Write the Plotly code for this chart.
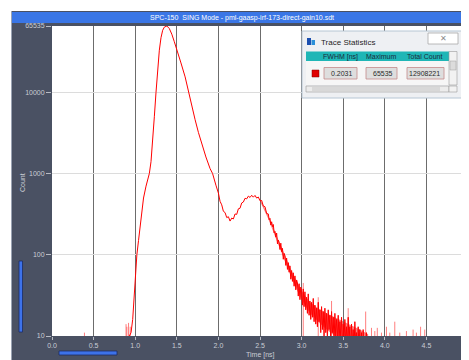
import math
import plotly.graph_objects as go

# ---------------- data ----------------
time_ns = [0.93, 0.95, 0.97, 0.99, 1.00, 1.02, 1.04, 1.06, 1.08, 1.10, 1.13, 1.15, 1.17, 1.19,
           1.21, 1.23, 1.25, 1.27, 1.29, 1.31, 1.33, 1.35, 1.38, 1.41, 1.44, 1.47, 1.50, 1.55,
           1.60, 1.64, 1.68, 1.72, 1.76, 1.80, 1.85, 1.90, 1.93, 1.97,
           2.00, 2.02, 2.04, 2.06, 2.08, 2.10, 2.12, 2.14, 2.16, 2.18, 2.20, 2.22, 2.24, 2.26,
           2.28, 2.30, 2.32, 2.34, 2.36, 2.38, 2.40, 2.42, 2.44, 2.46, 2.48, 2.50, 2.52, 2.54,
           2.56, 2.58,
           2.60, 2.61, 2.62, 2.63, 2.64, 2.65, 2.66, 2.67, 2.68, 2.69,
           2.70, 2.71, 2.72, 2.73, 2.74, 2.75, 2.76, 2.77, 2.78, 2.79,
           2.80, 2.81, 2.82, 2.83, 2.84, 2.85, 2.86, 2.87, 2.88, 2.89,
           2.90, 2.91, 2.92, 2.93, 2.94, 2.95, 2.96, 2.97, 2.98, 2.99,
           3.00, 3.01, 3.02, 3.03, 3.04, 3.05, 3.06, 3.07, 3.08, 3.09,
           3.10, 3.11, 3.12, 3.13, 3.14, 3.15, 3.16, 3.17, 3.18, 3.19,
           3.20, 3.21, 3.22, 3.23, 3.24, 3.25, 3.26, 3.27, 3.28, 3.29,
           3.30, 3.31, 3.32, 3.33, 3.34, 3.35, 3.36, 3.37, 3.38, 3.39,
           3.40, 3.41, 3.42, 3.43, 3.44, 3.45, 3.46, 3.47, 3.48, 3.49,
           3.50, 3.51, 3.52, 3.53, 3.54, 3.55, 3.56, 3.57, 3.58, 3.59,
           3.60, 3.61, 3.62, 3.63, 3.64, 3.65, 3.66, 3.67, 3.68, 3.69,
           3.70, 3.71, 3.72, 3.73, 3.74, 3.75, 3.76, 3.77, 3.78, 3.79,
           3.80, 3.81]
counts = [10, 11, 16, 35, 50, 100, 150, 230, 350, 500, 700, 850, 1000, 1400,
          2400, 5000, 10000, 20000, 33000, 47000, 58000, 63500, 65535, 61000, 52000, 42000, 34000, 23000,
          15500, 10000, 6800, 4600, 3200, 2300, 1600, 1150, 1000, 720,
          575, 455, 412, 343, 331, 287, 294, 260, 283, 276, 318, 314, 368, 374,
          434, 446, 496, 488, 527, 508, 540, 512, 538, 499, 514, 462, 466, 398,
          390, 322,
          318, 270, 281, 232, 255, 222, 236, 186, 194, 165,
          185, 136, 152, 142, 116, 139, 109, 120, 88, 104,
          97, 74, 91, 66, 80, 61, 73, 50, 64, 47,
          60, 41, 55, 37, 49, 45, 31, 44, 28, 40,
          36, 24, 38, 23, 35, 21, 30, 19, 33, 18,
          27, 16, 26, 17, 29, 15, 24, 14, 22, 13,
          26, 15, 21, 11, 23, 12, 20, 10, 22, 11,
          19, 9, 21, 12, 18, 9, 20, 11, 17, 8,
          19, 10, 16, 9, 18, 8, 15, 10, 17, 7,
          14, 9, 16, 8, 13, 7, 17, 9, 13, 6,
          14, 8, 12, 7, 15, 8, 11, 6, 13, 7,
          12, 6, 11, 5, 12, 6, 10, 5, 11, 6,
          9, 4]

# dense noise envelope of the decaying tail
band_t = [2.50, 2.60, 2.70, 2.80, 2.90, 3.00, 3.10, 3.20, 3.30, 3.40, 3.50, 3.60, 3.70, 3.80]
band_hi = [485, 305, 172, 100, 57, 36, 26, 22, 19, 17, 15, 13.5, 12, 10.5]
band_lo = [455, 275, 150, 82, 46, 28, 19, 15, 12, 10, 10, 10, 10, 10]

spike_t = [0.39, 0.89, 0.90, 0.92, 0.94, 3.02, 3.20, 3.36, 3.56, 3.77,
           3.84, 3.88, 3.91, 3.96, 4.02, 4.06, 4.12, 4.18, 4.26, 4.34, 4.38, 4.43, 4.48]
spike_h = [11, 14, 13, 14.5, 13, 45, 30, 27, 22, 20,
           12.6, 11.5, 12.6, 11, 13, 11, 15, 11, 11.5, 12, 11, 13, 12]
floor_count = 10

y_ticks = [10, 100, 1000, 10000, 65535]
y_tick_labels = ["10", "100", "1000", "10000", "65535"]
x_ticks = [0.0, 0.5, 1.0, 1.5, 2.0, 2.5, 3.0, 3.5, 4.0, 4.5, 5.0]
x_tick_labels = ["0.0", "0.5", "1.0", "1.5", "2.0", "2.5", "3.0", "3.5", "4.0", "4.5", "5.0"]

window_title = "SPC-150  SING Mode - pml-gaasp-irf-173-direct-gain10.sdt"
x_title = "Time [ns]"
y_title = "Count"
stats_title = "Trace Statistics"
stats_headers = ["FWHM [ns]", "Maximum", "Total Count"]
stats_values = ["0.2031", "65535", "12908221"]

# ---------------- layout helpers (screen pixel coords) ----------------
OFF = 8                      # default page body margin
W, H = 461, 352
L, R, T, B = 44, 1, 18, 24
PW, PH = W - L - R, H - T - B
FONT = "Liberation Sans, Arial, sans-serif"
FRAME = "#4a5163"
LABEL = "#c9cdd5"


def fx(x):
    return (x - OFF - L) / PW


def fy(y):
    return 1 - (y - OFF - T) / PH


shapes = []


def rect(x0, y0, x1, y1, fill, line=None, lw=1, layer="above"):
    shapes.append(dict(type="rect", xref="paper", yref="paper",
                       x0=fx(x0), x1=fx(x1), y0=fy(y1), y1=fy(y0),
                       fillcolor=fill, layer=layer,
                       line=dict(color=line if line else "rgba(0,0,0,0)", width=lw if line else 0)))


annotations = []


def text(x, y, s, size=7, color=LABEL, xanchor="center", angle=0, family=FONT):
    annotations.append(dict(xref="paper", yref="paper", x=fx(x), y=fy(y), text=s,
                            showarrow=False, xanchor=xanchor, yanchor="middle",
                            textangle=angle, font=dict(size=size, color=color, family=family)))


# frame around the plot area
rect(11, 11, 471, 26, FRAME, layer="below")
rect(11, 11, 52, 361, FRAME, layer="below")
rect(11, 336, 471, 361, FRAME, layer="below")
rect(11, 11, 12, 361, "#9aa3b3", layer="below")
# title bar
rect(12, 12, 471, 23, "#3a76e6", layer="below")
text(242, 17.6, window_title, size=7, color="#ffffff")
# scrollbars
rect(19, 261, 22.5, 332, "#3d72ea", "#1c2c66", 0.8, layer="below")
rect(59, 351, 117, 355, "#3d72ea", "#1c2c66", 0.8, layer="below")
# axis titles
text(22, 183, y_title, size=7, angle=-90)
text(260, 355, x_title, size=7)

# Trace statistics window
rect(302, 31, 462, 98, "#eef0f3", "#b6c6d4", 1)
rect(307, 38, 311, 45, "#1b4fb0")
rect(311.5, 40, 315, 45, "#2a8fd8")
text(319, 42, stats_title, size=8, color="#1e1e1e", xanchor="left")
rect(428, 33, 458, 44, "#ffffff", "#a8a8a8", 0.8)
text(443, 38.5, "✕", size=8, color="#8a8a8a", family="DejaVu Sans")
rect(306, 51.5, 449, 61, "#1fb6b6")
rect(306, 61, 449, 85, "#f6f6f6")
header_x = [340, 381, 424]
for hx, hs in zip(header_x, stats_headers):
    text(hx, 56.5, hs, size=7, color="#1a2b3a")
rect(449, 51.5, 457, 85, "#f2f2f2", "#9a9a9a", 0.6)
rect(450, 61, 456, 70, "#dcdcdc", "#a0a0a0", 0.5)
rect(312, 70, 319, 77, "#e00000", "#800000", 0.5)
box_x = [(324, 357), (366, 397), (407, 444)]
for (b0, b1), v in zip(box_x, stats_values):
    rect(b0, 67.5, b1, 79, "#dedede", "#c48a8a", 0.8)
    text(b1 - 2, 73.3, v, size=7, color="#2a2a2a", xanchor="right")
rect(306, 86, 449, 92, "#ececec", "#9a9a9a", 0.6)
rect(312, 87, 440, 91, "#d8d8d8")
rect(449, 86, 457, 92, "#f2f2f2", "#9a9a9a", 0.6)

# ---------------- traces ----------------
fig = go.Figure()
fig.add_trace(go.Scatter(x=band_t, y=band_hi, mode="lines",
                         line=dict(color="rgba(255,0,0,0)", width=0),
                         hoverinfo="skip", showlegend=False))
fig.add_trace(go.Scatter(x=band_t, y=band_lo, mode="lines", fill="tonexty",
                         fillcolor="rgba(255,0,0,0.5)",
                         line=dict(color="rgba(255,0,0,0)", width=0),
                         hoverinfo="skip", showlegend=False))
sx, sy = [], []
for t, h in zip(spike_t, spike_h):
    sx += [t, t, None]
    sy += [floor_count, h, None]
fig.add_trace(go.Scatter(x=sx, y=sy, mode="lines",
                         line=dict(color="rgba(255,40,40,0.6)", width=1),
                         hoverinfo="skip", showlegend=False))
fig.add_trace(go.Scatter(x=time_ns, y=counts, mode="lines",
                         line=dict(color="#ff0000", width=1),
                         showlegend=False))

fig.update_layout(
    width=W, height=H,
    margin=dict(l=L, r=R, t=T, b=B, pad=0),
    paper_bgcolor="#ffffff", plot_bgcolor="#ffffff",
    font=dict(family=FONT, size=7, color=LABEL),
    shapes=shapes, annotations=annotations,
    xaxis=dict(range=[0, 5], tickvals=x_ticks, ticktext=x_tick_labels,
               showgrid=True, gridcolor="#6c6c6c", gridwidth=1, zeroline=False,
               showline=False, ticks="outside", ticklen=3, tickcolor="#b8bcc4",
               tickfont=dict(size=7, color=LABEL), ticklabeloverflow="allow",
               automargin=False, fixedrange=True),
    yaxis=dict(type="log", range=[1, math.log10(65535)], tickvals=y_ticks,
               ticktext=y_tick_labels, showgrid=True, gridcolor="#dcdcdc", gridwidth=1,
               zeroline=False, showline=False, ticks="outside", ticklen=5,
               tickcolor="#b8bcc4", tickfont=dict(size=7, color=LABEL),
               automargin=False, fixedrange=True),
)

fig.write_html("out.html", config={"displayModeBar": False})
